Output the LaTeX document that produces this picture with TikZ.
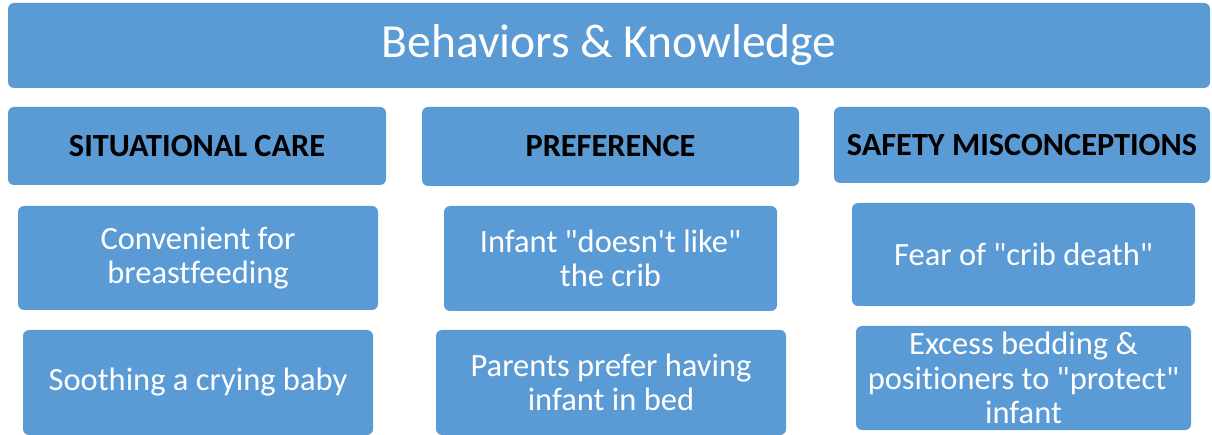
\documentclass[tikz,border=0pt]{standalone}
\usepackage{fontspec}
\setmainfont{Carlito}[Ligatures={TeXOff,NoCommon}]
\definecolor{boxblue}{HTML}{5B9BD5}
\tikzset{
  box/.style={rectangle, rounded corners=6pt, fill=boxblue, inner sep=0pt, align=center},
  titlebox/.style={box, text=white, font=\fontsize{47.5}{52}\selectfont},
  headbox/.style={box, text=black, font=\fontsize{32.3}{36}\selectfont\bfseries},
  itembox/.style={box, text=white, font=\fontsize{32.5}{34.5}\selectfont},
}
\begin{document}
\begin{tikzpicture}[x=1pt,y=-1pt]
\useasboundingbox (0,0) rectangle (1212,435);
\node[titlebox, minimum width=1202pt, minimum height=85pt] (title) at (609,45.5) {Behaviors \& Knowledge};
\node[headbox, minimum width=378pt, minimum height=78pt] (sc) at (197,146) {SITUATIONAL CARE};
\node[headbox, minimum width=377pt, minimum height=79pt] (pref) at (610.5,146.5) {PREFERENCE};
\node[headbox, minimum width=376pt, minimum height=76pt] (safe) at (1022,145) {SAFETY MISCONCEPTIONS};
\node[itembox, minimum width=360pt, minimum height=104pt] (conv) at (198,258) {Convenient for\\breastfeeding};
\node[itembox, minimum width=350pt, minimum height=105pt] (sooth) at (198,382.5) {Soothing a crying baby};
\node[itembox, minimum width=333pt, minimum height=105pt] (infant) at (610.5,258.5) {Infant "doesn't like"\\the crib};
\node[itembox, minimum width=350pt, minimum height=105pt] (parents) at (611,382.5) {Parents prefer having\\infant in bed};
\node[itembox, minimum width=343pt, minimum height=103pt] (fear) at (1023.5,254.5) {Fear of "crib death"};
\node[itembox, minimum width=335pt, minimum height=104pt] (excess) at (1023.5,378) {Excess bedding \&\\positioners to "protect"\\infant};
\end{tikzpicture}
\end{document}
